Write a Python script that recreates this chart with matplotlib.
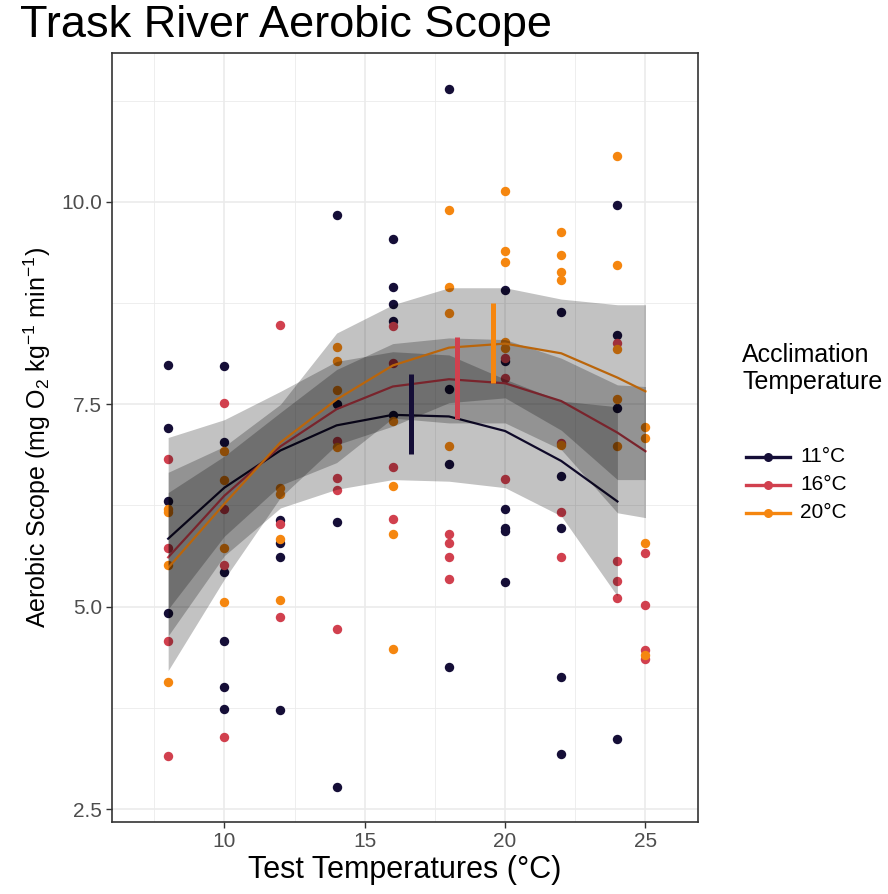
import matplotlib
matplotlib.use('Agg')
import matplotlib.pyplot as plt
from matplotlib.lines import Line2D

plt.rcParams['font.family'] = ['Liberation Sans', 'DejaVu Sans']
plt.rcParams['mathtext.fontset'] = 'custom'
plt.rcParams['mathtext.rm'] = 'Liberation Sans'
plt.rcParams['mathtext.it'] = 'Liberation Sans:italic'

# acclimation groups
groups = ['11°C', '16°C', '20°C']
colors = ['#150E37', '#D1404E', '#F5860F']

# measured aerobic scope per test temperature
pts_11 = {
    8: [7.98, 7.21, 6.30, 4.92],
    10: [7.97, 7.03, 5.43, 4.57, 4.01, 3.74],
    12: [6.07, 5.79, 5.61, 3.72],
    14: [9.84, 7.50, 6.05, 2.77],
    16: [9.54, 8.95, 8.74, 8.53, 7.37],
    18: [11.39, 7.69, 6.76, 4.25],
    20: [8.91, 8.03, 6.21, 5.97, 5.94, 5.31],
    22: [8.64, 6.62, 5.97, 4.13, 3.18],
    24: [9.96, 8.36, 7.45, 3.36],
}
pts_16 = {
    8: [6.83, 5.73, 4.57, 3.15],
    10: [7.52, 6.21, 5.52, 3.39],
    12: [8.48, 6.02, 4.87],
    14: [7.05, 6.59, 6.44, 4.72],
    16: [8.47, 8.01, 6.72, 6.08],
    18: [5.90, 5.79, 5.61, 5.34],
    20: [8.07, 7.82, 6.58],
    22: [7.02, 6.17, 5.61],
    24: [8.26, 5.56, 5.32, 5.11],
    25: [5.66, 5.02, 4.47, 4.35],
}
pts_20 = {
    8: [6.21, 6.17, 5.52, 4.07],
    10: [6.92, 6.57, 5.73, 5.06],
    12: [6.47, 6.39, 5.83, 5.08],
    14: [8.21, 8.04, 7.68, 6.97],
    16: [7.30, 6.49, 5.90, 4.48],
    18: [9.90, 8.95, 8.63, 6.98],
    20: [10.14, 9.40, 9.26, 8.27, 8.20],
    22: [9.63, 9.35, 9.13, 9.04, 7.00],
    24: [10.57, 9.22, 8.18, 7.56, 6.98],
    25: [7.22, 7.08, 5.79, 4.40],
}

# fitted curves and confidence bands
fit_x_11 = [8, 10, 12, 14, 16, 18, 20, 22, 24]
fit_x_16 = [8, 10, 12, 14, 16, 18, 20, 22, 24, 25]
fit_x_20 = [8, 10, 12, 14, 16, 18, 20, 22, 24, 25]

fit_11 = [5.84, 6.47, 6.93, 7.24, 7.37, 7.35, 7.17, 6.80, 6.30]
fit_16 = [5.61, 6.37, 6.98, 7.44, 7.72, 7.81, 7.76, 7.54, 7.15, 6.92]
fit_20 = [5.48, 6.27, 7.03, 7.56, 7.98, 8.20, 8.25, 8.13, 7.83, 7.66]

lo_11 = [4.64, 5.63, 6.22, 6.45, 6.57, 6.55, 6.47, 6.12, 5.13]
hi_11 = [7.09, 7.31, 7.66, 8.03, 8.15, 8.11, 7.81, 7.54, 7.47]
lo_16 = [4.97, 5.87, 6.50, 6.78, 7.33, 7.27, 7.27, 6.94, 6.16, 6.10]
hi_16 = [6.41, 6.86, 7.40, 7.93, 8.25, 8.32, 8.30, 8.07, 7.74, 7.72]
lo_20 = [4.21, 5.34, 6.35, 7.00, 7.23, 7.52, 7.58, 7.18, 6.57, 6.57]
hi_20 = [6.66, 6.98, 7.50, 8.38, 8.73, 8.94, 8.94, 8.80, 8.73, 8.73]

# optimum temperature markers
topt = [16.65, 18.30, 19.57]
topt_lo = [6.89, 7.32, 7.76]
topt_hi = [7.87, 8.33, 8.75]

W, H = 888, 894
fig = plt.figure(figsize=(W / 100, H / 100), dpi=100)
ax = fig.add_axes([112 / W, 1 - 822 / H, (698 - 112) / W, (822 - 53) / H])

for pts, c in zip([pts_11, pts_16, pts_20], colors):
    xs = [x for x, v in pts.items() for _ in v]
    ys = [y for v in pts.values() for y in v]
    ax.scatter(xs, ys, s=46, color=c, linewidths=0, zorder=2)

# each group: curve, then its band on top
z = 3
for fx, fy, lo, hi, c in zip([fit_x_11, fit_x_16, fit_x_20], [fit_11, fit_16, fit_20],
                             [lo_11, lo_16, lo_20], [hi_11, hi_16, hi_20], colors):
    ax.plot(fx, fy, color=c, lw=1.6, zorder=z)
    ax.fill_between(fx, lo, hi, color='black', alpha=0.24, linewidth=0, zorder=z + 0.5)
    z += 1

ax.vlines(topt, topt_lo, topt_hi, colors=colors, lw=3.6, zorder=10)

ax.set_xlim(6.0, 26.87)
ax.set_ylim(2.34, 11.84)
ax.set_xticks([10, 15, 20, 25])
ax.set_xticks([7.5, 12.5, 17.5, 22.5], minor=True)
ax.set_yticks([2.5, 5.0, 7.5, 10.0])
ax.set_yticklabels(['2.5', '5.0', '7.5', '10.0'])
ax.set_yticks([3.75, 6.25, 8.75, 11.25], minor=True)
ax.grid(which='major', color='#EBEBEB', lw=1.2, zorder=0)
ax.grid(which='minor', color='#EBEBEB', lw=0.6, zorder=0)
ax.set_axisbelow(True)
ax.tick_params(which='major', length=4, width=1, color='#333333',
               labelsize=15, labelcolor='#4D4D4D', pad=3)
ax.tick_params(which='minor', length=0)
for sp in ax.spines.values():
    sp.set_color('#333333')
    sp.set_linewidth(1.2)

ax.set_xlabel('Test Temperatures (°C)', fontsize=22, labelpad=3)
ax.set_ylabel('Aerobic Scope (mg O$_2$ kg$^{-1}$ min$^{-1}$)', fontsize=18, labelpad=6)

fig.text(20 / W, 1 - 37 / H, 'Trask River Aerobic Scope', fontsize=32.5, va='baseline', ha='left')

# legend drawn in figure pixels
fig.text(742 / W, 1 - 355 / H, 'Acclimation', fontsize=18, va='center', ha='left')
fig.text(742 / W, 1 - 382 / H, 'Temperature', fontsize=18, va='center', ha='left')
key_y = [457, 485, 513]
for g, c, ky in zip(groups, colors, key_y):
    fig.add_artist(Line2D([746 / W, 790 / W], [1 - ky / H, 1 - ky / H], color=c, lw=2.4,
                          transform=fig.transFigure))
    fig.add_artist(Line2D([768 / W], [1 - ky / H], color=c, marker='o', markersize=6.5,
                          markeredgewidth=0, transform=fig.transFigure))
    fig.text(800 / W, 1 - ky / H, g, fontsize=15, va='center', ha='left')

fig.savefig('out.png', dpi=100)
